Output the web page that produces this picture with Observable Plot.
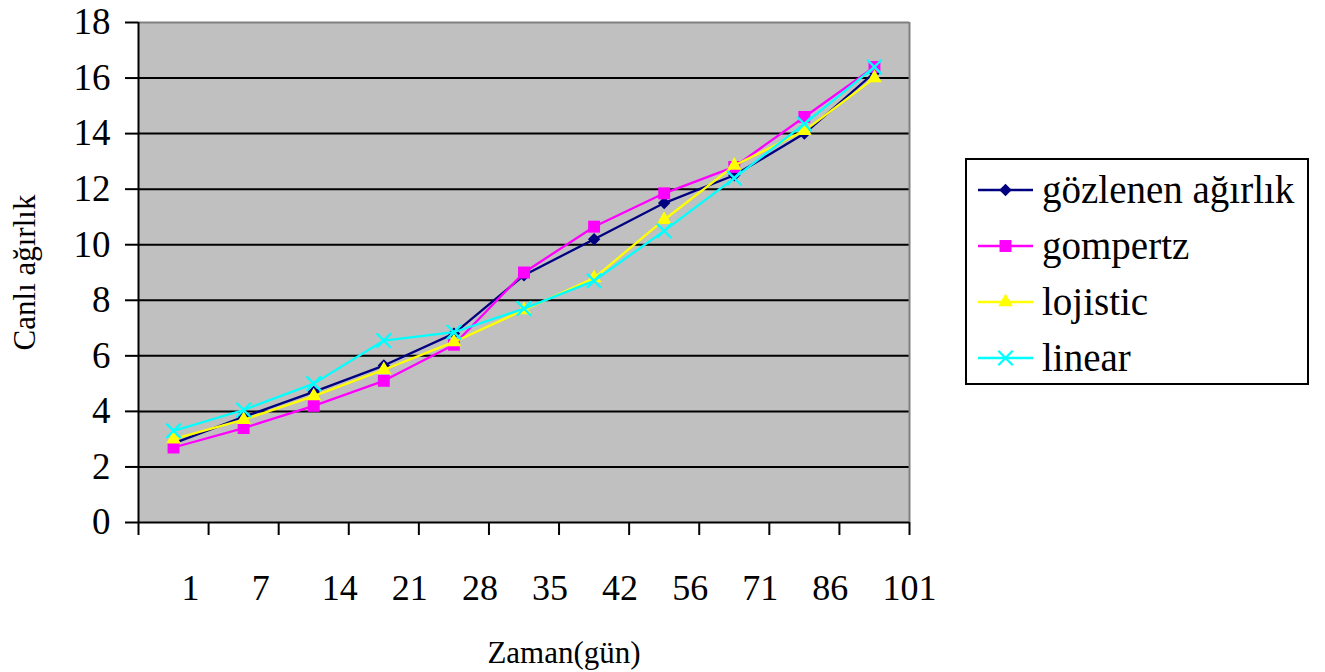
<!DOCTYPE html>
<html><head><meta charset="utf-8">
<script src="https://cdn.jsdelivr.net/npm/d3@7"></script>
<script src="https://cdn.jsdelivr.net/npm/@observablehq/plot@0.6"></script>
<style>
body{margin:0;background:#fff;}
#wrap{position:relative;width:1325px;height:672px;font-family:"Liberation Serif","Times New Roman",serif;}
#wrap > svg{position:absolute;left:0;top:0;}
#legend{position:absolute;left:965px;top:158px;width:344px;height:227px;box-sizing:border-box;border:2px solid #000;padding-top:2px;background:#fff;}
.row{display:flex;align-items:center;height:56px;}
.row svg{margin-left:11px;margin-right:9px;flex:none;}
.row span{font-family:"Liberation Serif","Times New Roman",serif;font-size:39px;line-height:1.15;white-space:nowrap;color:#000;}
</style></head><body><div id="wrap"></div>
<script>
const categories = ["1","7","14","21","28","35","42","56","71","86","101"];
const seriesNames = ["gözlenen ağırlık","gompertz","lojistic","linear"];
const gozlenen = [2.85, 3.8, 4.7, 5.65, 6.8, 8.9, 10.2, 11.5, 12.5, 14.0, 16.2];
const gompertz = [2.7, 3.4, 4.2, 5.1, 6.4, 9.0, 10.65, 11.85, 12.8, 14.6, 16.4];
const lojistic = [3.0, 3.7, 4.55, 5.5, 6.5, 7.65, 8.8, 10.9, 12.85, 14.1, 16.0];
const linear = [3.3, 4.05, 5.0, 6.55, 6.85, 7.7, 8.7, 10.5, 12.4, 14.35, 16.4];
const yTicks = [0, 2, 4, 6, 8, 10, 12, 14, 16, 18];
const gridValues = [2, 4, 6, 8, 10, 12, 14, 16];
const xTitle = "Zaman(gün)";
const yTitle = "Canlı ağırlık";

const seriesValues = [gozlenen, gompertz, lojistic, linear];
const colors = ["#000080", "#FF00FF", "#FFFF00", "#00FFFF"];
const symbols = ["diamond2", "square2", "triangle2", "times"];
const d3symbols = [d3.symbolDiamond2, d3.symbolSquare2, d3.symbolTriangle2, d3.symbolTimes];
const radii = [5.6, 7.6, 7, 6.6];
const serif = "'Liberation Serif','Times New Roman',serif";

const rows = [];
seriesNames.forEach((s, k) => seriesValues[k].forEach((v, i) => rows.push({s, k, i, v})));

const seriesMarks = seriesNames.flatMap((s, k) => {
  const data = rows.filter(d => d.k === k);
  return [
    Plot.line(data, {x: d => d.i + 0.5, y: "v", stroke: colors[k], strokeWidth: 2.3}),
    Plot.dot(data, {x: d => d.i + 0.5, y: "v", symbol: symbols[k], r: radii[k],
      fill: k === 3 ? "none" : colors[k], stroke: k === 3 ? colors[k] : "none", strokeWidth: k === 3 ? 2.3 : 0})
  ];
});

const chart = Plot.plot({
  width: 1325,
  height: 672,
  marginLeft: 138,
  marginRight: 416,
  marginTop: 22,
  marginBottom: 150,
  style: {fontFamily: serif, fontSize: "36px", background: "transparent", color: "#000"},
  x: {domain: [0, categories.length], axis: null},
  y: {domain: [0, 18], axis: null},
  marks: [
    Plot.frame({fill: "#C0C0C0", stroke: null}),
    Plot.ruleY(gridValues, {stroke: "#000", strokeWidth: 2}),
    Plot.ruleY([18], {stroke: "#808080", strokeWidth: 2}),
    Plot.ruleX([categories.length], {stroke: "#808080", strokeWidth: 2}),
    Plot.ruleX([0], {stroke: "#000", strokeWidth: 2}),
    Plot.ruleY([0], {stroke: "#000", strokeWidth: 2}),
    Plot.axisY({ticks: yTicks, tickSize: 13, tickPadding: 15, fontSize: 37, fontFamily: serif, strokeWidth: 2, label: null}),
    Plot.axisX({ticks: d3.range(categories.length + 1), tickSize: 13, tickFormat: () => "", strokeWidth: 2, label: null}),
    Plot.axisX({ticks: categories.map((c, i) => i + 0.5), tickSize: 0, tickPadding: 52,
      tickFormat: d => categories[Math.floor(d)], textAnchor: "start", dx: 8, fontSize: 36, fontFamily: serif, label: null}),
    ...seriesMarks,
    Plot.text([yTitle], {frameAnchor: "left", textAnchor: "middle", rotate: -90, dx: -113, fontSize: 31, fontFamily: serif, text: d => d}),
    Plot.text([xTitle], {frameAnchor: "bottom", textAnchor: "middle", dx: 40, dy: 140, fontSize: 31, fontFamily: serif, text: d => d})
  ]
});

const wrap = document.getElementById("wrap");
wrap.appendChild(chart);

const legend = document.createElement("div");
legend.id = "legend";
seriesNames.forEach((s, k) => {
  const row = document.createElement("div");
  row.className = "row";
  const ns = "http://www.w3.org/2000/svg";
  const svg = document.createElementNS(ns, "svg");
  svg.setAttribute("width", 55); svg.setAttribute("height", 20);
  const line = document.createElementNS(ns, "line");
  line.setAttribute("x1", 0); line.setAttribute("x2", 55); line.setAttribute("y1", 10); line.setAttribute("y2", 10);
  line.setAttribute("stroke", colors[k]); line.setAttribute("stroke-width", 2.3);
  svg.appendChild(line);
  const p = document.createElementNS(ns, "path");
  p.setAttribute("d", d3.symbol(d3symbols[k], Math.PI * radii[k] * radii[k])());
  p.setAttribute("transform", "translate(27.5,10)");
  if (k === 3) { p.setAttribute("fill", "none"); p.setAttribute("stroke", colors[k]); p.setAttribute("stroke-width", 2.3); }
  else p.setAttribute("fill", colors[k]);
  svg.appendChild(p);
  row.appendChild(svg);
  const span = document.createElement("span");
  span.textContent = s;
  row.appendChild(span);
  legend.appendChild(row);
});
wrap.appendChild(legend);
</script></body></html>
